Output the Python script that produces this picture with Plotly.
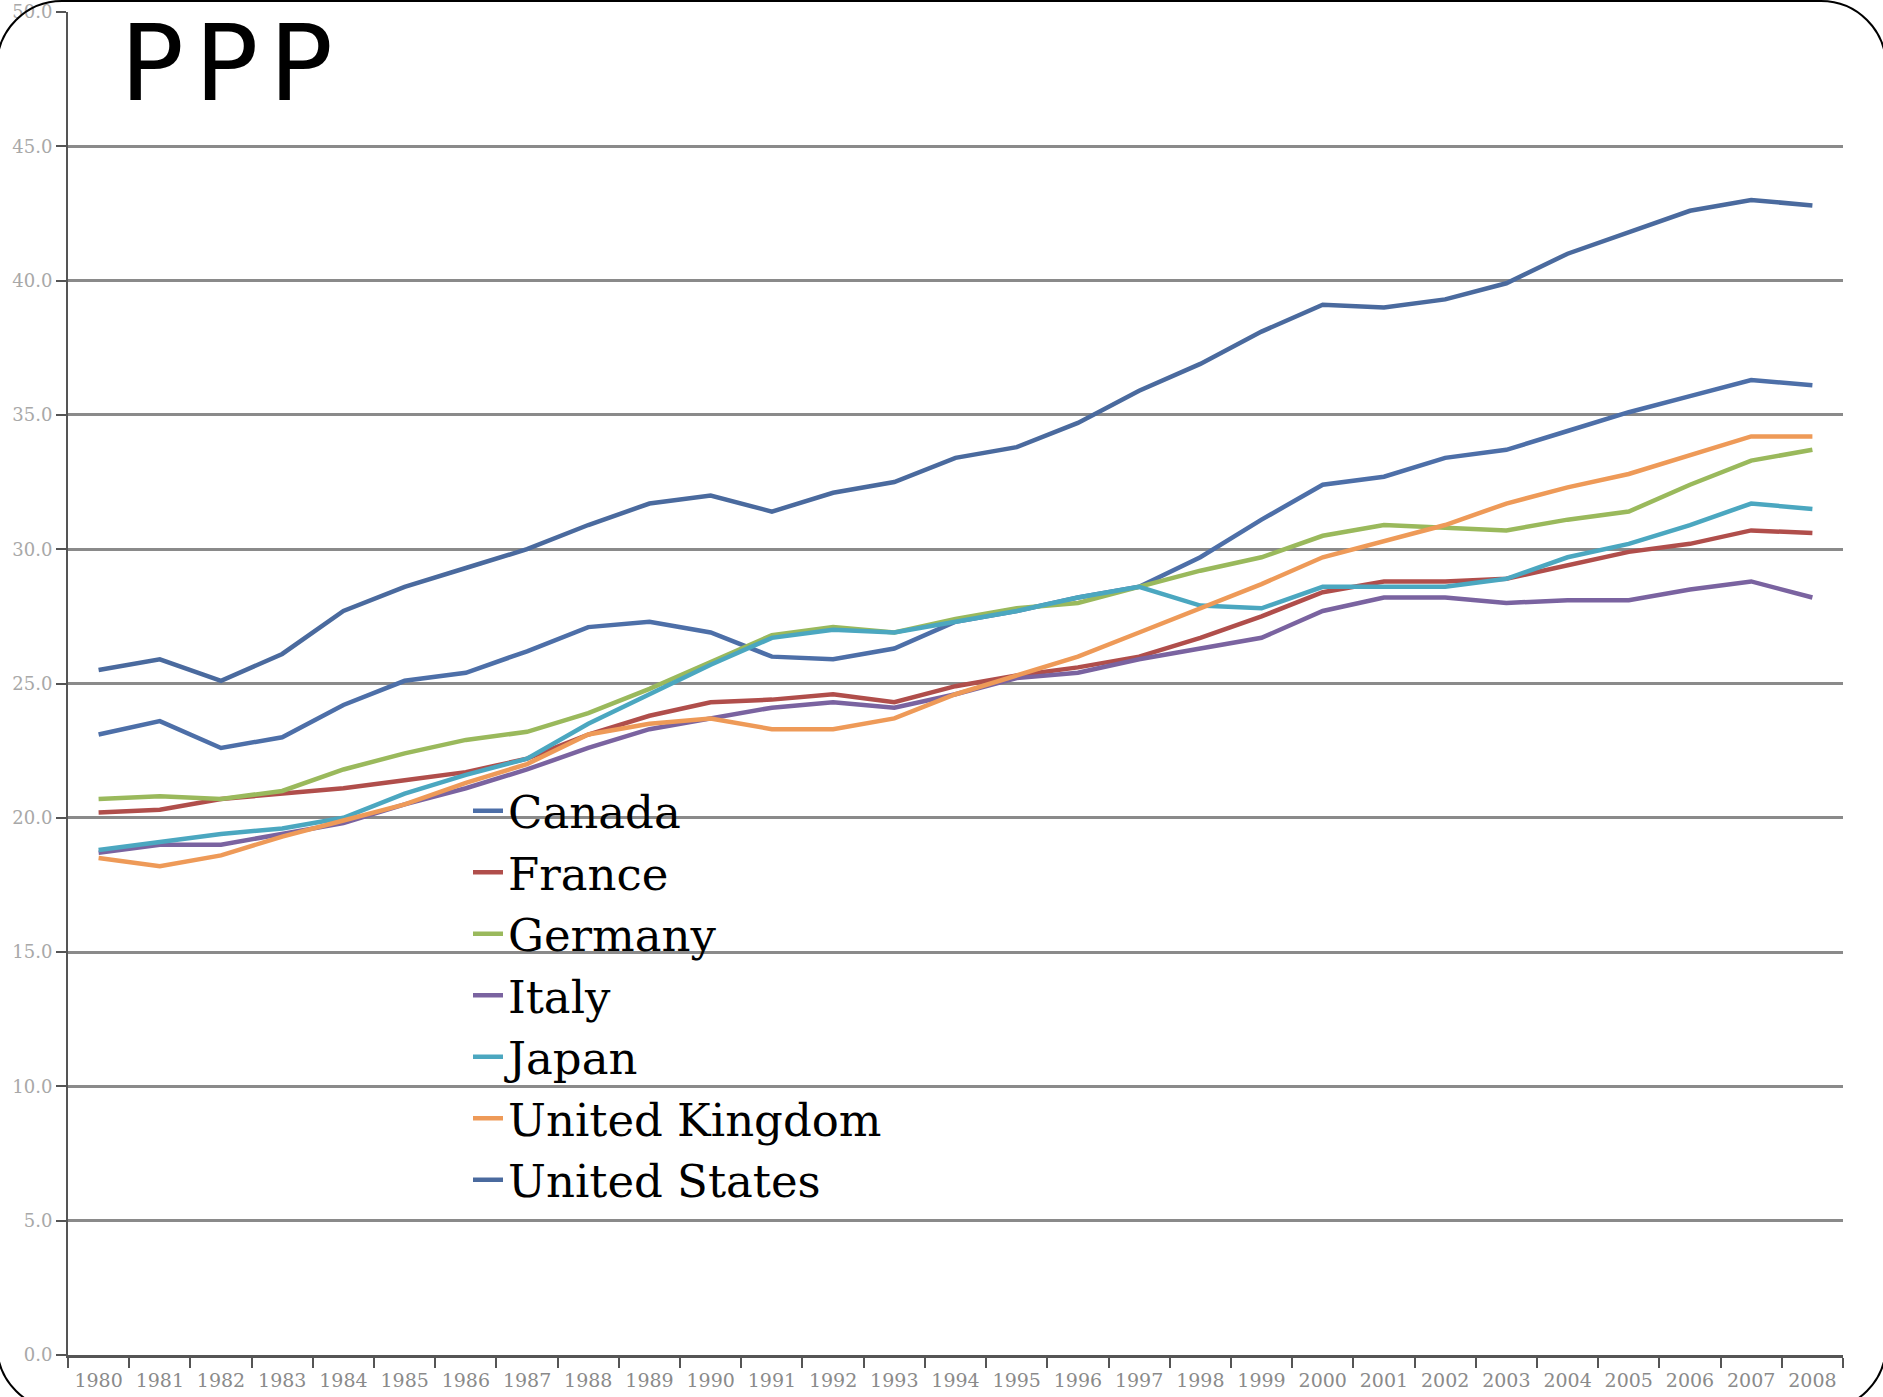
import plotly.graph_objects as go

years = [str(y) for y in range(1980, 2009)]

canada = [23.1, 23.6, 22.6, 23.0, 24.2, 25.1, 25.4, 26.2, 27.1, 27.3, 26.9, 26.0, 25.9, 26.3, 27.3,
          27.7, 28.2, 28.6, 29.7, 31.1, 32.4, 32.7, 33.4, 33.7, 34.4, 35.1, 35.7, 36.3, 36.1]
france = [20.2, 20.3, 20.7, 20.9, 21.1, 21.4, 21.7, 22.2, 23.1, 23.8, 24.3, 24.4, 24.6, 24.3, 24.9,
          25.3, 25.6, 26.0, 26.7, 27.5, 28.4, 28.8, 28.8, 28.9, 29.4, 29.9, 30.2, 30.7, 30.6]
germany = [20.7, 20.8, 20.7, 21.0, 21.8, 22.4, 22.9, 23.2, 23.9, 24.8, 25.8, 26.8, 27.1, 26.9, 27.4,
           27.8, 28.0, 28.6, 29.2, 29.7, 30.5, 30.9, 30.8, 30.7, 31.1, 31.4, 32.4, 33.3, 33.7]
italy = [18.7, 19.0, 19.0, 19.4, 19.8, 20.5, 21.1, 21.8, 22.6, 23.3, 23.7, 24.1, 24.3, 24.1, 24.6,
         25.2, 25.4, 25.9, 26.3, 26.7, 27.7, 28.2, 28.2, 28.0, 28.1, 28.1, 28.5, 28.8, 28.2]
japan = [18.8, 19.1, 19.4, 19.6, 20.0, 20.9, 21.6, 22.2, 23.5, 24.6, 25.7, 26.7, 27.0, 26.9, 27.3,
         27.7, 28.2, 28.6, 27.9, 27.8, 28.6, 28.6, 28.6, 28.9, 29.7, 30.2, 30.9, 31.7, 31.5]
uk = [18.5, 18.2, 18.6, 19.3, 19.9, 20.5, 21.3, 22.0, 23.1, 23.5, 23.7, 23.3, 23.3, 23.7, 24.6,
      25.3, 26.0, 26.9, 27.8, 28.7, 29.7, 30.3, 30.9, 31.7, 32.3, 32.8, 33.5, 34.2, 34.2]
us = [25.5, 25.9, 25.1, 26.1, 27.7, 28.6, 29.3, 30.0, 30.9, 31.7, 32.0, 31.4, 32.1, 32.5, 33.4,
      33.8, 34.7, 35.9, 36.9, 38.1, 39.1, 39.0, 39.3, 39.9, 41.0, 41.8, 42.6, 43.0, 42.8]

series = [
    ("Canada", canada, "#4d6fa8"),
    ("France", france, "#b04e4b"),
    ("Germany", germany, "#9ab95c"),
    ("Italy", italy, "#7a63a0"),
    ("Japan", japan, "#4ba7c0"),
    ("United Kingdom", uk, "#ee9a58"),
    ("United States", us, "#4a6a9e"),
]

W, H = 1883, 1397
ML, MR, MT, MB = 68, 40, 12, 42
PW, PH = W - ML - MR, H - MT - MB


def px(xp, yp):
    return (xp - ML) / PW, (H - MB - yp) / PH


fig = go.Figure()
for name, vals, col in series:
    fig.add_trace(go.Scatter(x=years, y=vals, mode="lines", name=name,
                             line=dict(color=col, width=4.5)))

# rounded frame
L, T, R, B, r = -3, 1, 1886, 1410, 65
k = 0.5523 * r
pts = [("M", [(L + r, T)]), ("L", [(R - r, T)]),
       ("C", [(R - r + k, T), (R, T + r - k), (R, T + r)]),
       ("L", [(R, B - r)]),
       ("C", [(R, B - r + k), (R - r + k, B), (R - r, B)]),
       ("L", [(L + r, B)]),
       ("C", [(L + r - k, B), (L, B - r + k), (L, B - r)]),
       ("L", [(L, T + r)]),
       ("C", [(L, T + r - k), (L + r - k, T), (L + r, T)])]
path = ""
for cmd, ps in pts:
    path += cmd + " ".join("%.5f,%.5f" % px(a, b) for a, b in ps)
path += "Z"
fig.add_shape(type="path", path=path, xref="paper", yref="paper",
              line=dict(color="black", width=2), layer="above")

fig.add_annotation(text="P\u200aP\u200aP", xref="paper", yref="paper",
                   x=px(118, 0)[0], y=px(0, 0.5)[1], xanchor="left", yanchor="top",
                   showarrow=False, font=dict(family="DejaVu Sans", size=106, color="black"))

fig.update_layout(
    width=W, height=H,
    margin=dict(l=ML, r=MR, t=MT, b=MB, autoexpand=False),
    paper_bgcolor="white", plot_bgcolor="white",
    showlegend=True,
    legend=dict(x=px(468, 0)[0], y=px(0, 775)[1], xanchor="left", yanchor="top",
                bgcolor="rgba(0,0,0,0)", itemwidth=30,
                font=dict(family="DejaVu Serif", size=45, color="black")),
    xaxis=dict(type="category", tickvals=years, ticktext=years, tickson="boundaries",
               ticks="outside", ticklen=10, tickwidth=2, tickcolor="#555",
               showline=True, linecolor="#555", linewidth=3, showgrid=False,
               automargin=False, ticklabelstandoff=6,
               tickfont=dict(family="DejaVu Serif", size=19, color="#8a8a8a"),
               range=[-0.5, 28.5]),
    yaxis=dict(range=[0, 50], dtick=5, tickformat=".1f",
               ticks="outside", ticklen=10, tickwidth=2, tickcolor="#555",
               showline=True, linecolor="#555", linewidth=2, automargin=False,
               showgrid=True, gridcolor="#8a8a8a", gridwidth=2.5, zeroline=False,
               tickfont=dict(family="DejaVu Serif", size=18, color="#a8a8a8")),
)

fig.write_html("out.html", config={"displayModeBar": False},
               post_script="document.body.style.margin='0';document.body.style.overflow='hidden';")
